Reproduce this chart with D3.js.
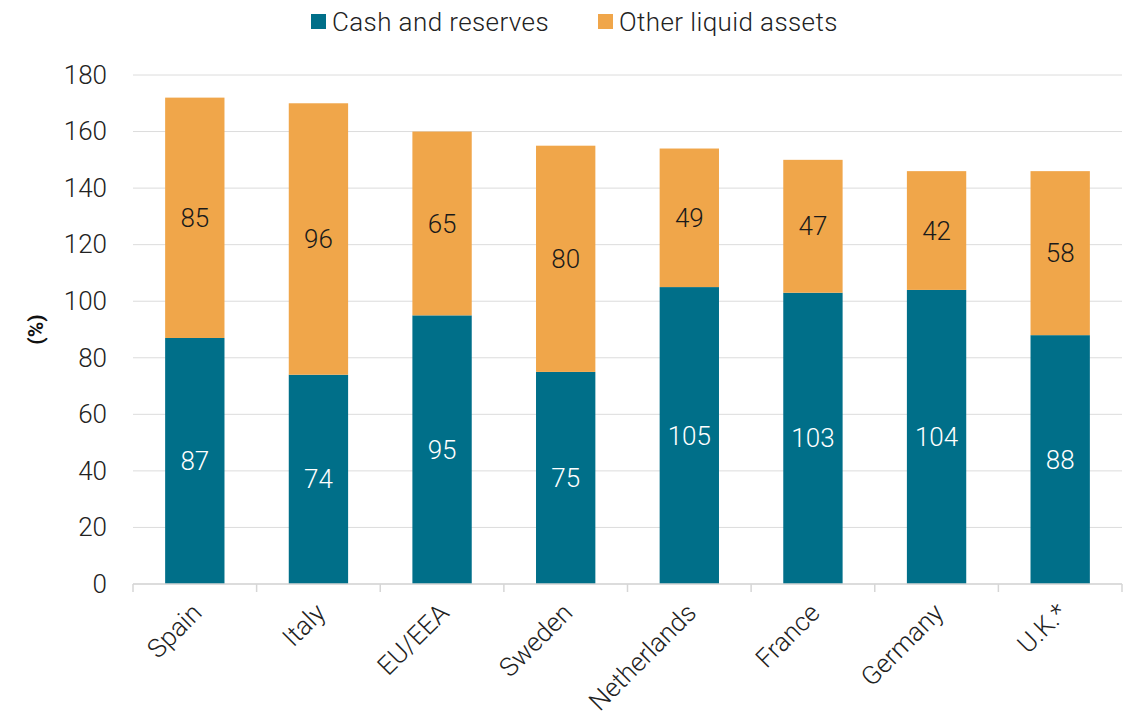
<!DOCTYPE html>
<html>
<head>
<meta charset="utf-8">
<script src="https://cdn.jsdelivr.net/npm/d3@7"></script>
<style>
  body { margin: 0; background: #fff; }
  svg text { font-family: Roboto, "Open Sans", sans-serif; }
</style>
</head>
<body>
<svg id="chart" width="1130" height="725"></svg>
<script>
// Liquid asset coverage by country (%)
const categories = ["Spain", "Italy", "EU/EEA", "Sweden", "Netherlands", "France", "Germany", "U.K.*"];
const cashReserves = [87, 74, 95, 75, 105, 103, 104, 88];
const otherLiquid = [85, 96, 65, 80, 49, 47, 42, 58];
const seriesNames = ["Cash and reserves", "Other liquid assets"];
const yTicks = [0, 20, 40, 60, 80, 100, 120, 140, 160, 180];

const colors = ["#006f89", "#f0a64a"];
const labelColors = ["#ffffff", "#1a1a1a"];
const FS = 26;

const svg = d3.select("#chart");
const margin = { left: 133, right: 8, top: 75, bottom: 141 };
const W = 1130, H = 725;

const x = d3.scaleBand()
  .domain(categories)
  .range([margin.left, W - margin.right])
  .paddingInner(0.52)
  .paddingOuter(0.26);

const y = d3.scaleLinear()
  .domain([0, 180])
  .range([H - margin.bottom, margin.top]);

// gridlines
svg.append("g")
  .selectAll("line")
  .data(yTicks)
  .join("line")
  .attr("x1", margin.left)
  .attr("x2", W - margin.right)
  .attr("y1", d => y(d))
  .attr("y2", d => y(d))
  .attr("stroke", "#dcdcdc")
  .attr("stroke-width", 1);

// y axis tick labels
const yAxis = d3.axisLeft(y).tickValues(yTicks).tickSize(0).tickPadding(26);
const gy = svg.append("g").attr("transform", `translate(${margin.left},0)`).call(yAxis);
gy.select(".domain").remove();
gy.selectAll("text")
  .attr("font-family", "Roboto, sans-serif")
  .attr("font-size", FS)
  .attr("font-weight", 300)
  .attr("fill", "#222");

// y axis title
svg.append("text")
  .attr("transform", `translate(43,${(y(0) + y(180)) / 2}) rotate(-90)`)
  .attr("text-anchor", "middle")
  .attr("font-size", 21)
  .attr("font-weight", 700)
  .attr("fill", "#111")
  .text("(%)");

// stacked data
const rows = categories.map((c, i) => ({ cat: c, v: [cashReserves[i], otherLiquid[i]] }));
const segs = [];
rows.forEach(r => {
  let base = 0;
  r.v.forEach((val, k) => {
    segs.push({ cat: r.cat, k, y0: base, y1: base + val, val });
    base += val;
  });
});

svg.append("g")
  .selectAll("rect")
  .data(segs)
  .join("rect")
  .attr("x", d => x(d.cat))
  .attr("width", x.bandwidth())
  .attr("y", d => y(d.y1))
  .attr("height", d => y(d.y0) - y(d.y1))
  .attr("fill", d => colors[d.k]);

svg.append("g")
  .selectAll("text")
  .data(segs)
  .join("text")
  .attr("x", d => x(d.cat) + x.bandwidth() / 2)
  .attr("y", d => y((d.y0 + d.y1) / 2))
  .attr("dy", "0.35em")
  .attr("text-anchor", "middle")
  .attr("font-size", FS)
  .attr("font-weight", 300)
  .attr("fill", d => labelColors[d.k])
  .text(d => d.val);

// x axis: baseline and separators between categories
const baseY = y(0);
svg.append("line")
  .attr("x1", margin.left).attr("x2", W - margin.right)
  .attr("y1", baseY).attr("y2", baseY)
  .attr("stroke", "#d6d6d6").attr("stroke-width", 1.5);

const bounds = d3.range(categories.length + 1).map(i => margin.left + i * ((W - margin.right - margin.left) / categories.length));
svg.append("g")
  .selectAll("line")
  .data(bounds)
  .join("line")
  .attr("x1", d => d).attr("x2", d => d)
  .attr("y1", baseY).attr("y2", baseY + 8)
  .attr("stroke", "#d6d6d6").attr("stroke-width", 1.5);

svg.append("g")
  .selectAll("text")
  .data(categories)
  .join("text")
  .attr("transform", d => `translate(${x(d) + x.bandwidth() / 2 + 2},${baseY + 24}) rotate(-45)`)
  .attr("text-anchor", "end")
  .attr("dy", "0.35em")
  .attr("font-size", FS)
  .attr("font-weight", 300)
  .attr("fill", "#222")
  .text(d => d);

// legend
const legend = svg.append("g");
const legendX = [311, 598];
seriesNames.forEach((name, k) => {
  legend.append("rect")
    .attr("x", legendX[k]).attr("y", 14)
    .attr("width", 15).attr("height", 15)
    .attr("fill", colors[k]);
  legend.append("text")
    .attr("x", legendX[k] + 21).attr("y", 31)
    .attr("font-size", FS)
    .attr("font-weight", 300)
    .attr("letter-spacing", 0.4)
    .attr("fill", "#222")
    .text(name);
});
</script>
</body>
</html>
